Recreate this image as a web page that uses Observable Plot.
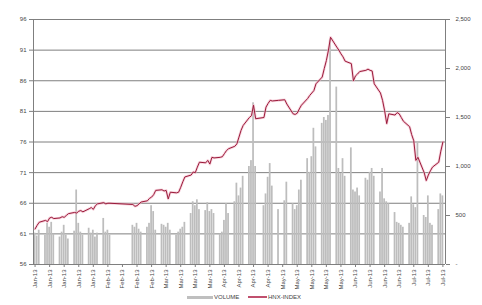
<!DOCTYPE html>
<html>
<head>
<meta charset="utf-8">
<script src="https://cdn.jsdelivr.net/npm/d3@7"></script>
<script src="https://cdn.jsdelivr.net/npm/@observablehq/plot@0.6"></script>
<style>
  html, body { margin: 0; padding: 0; background: #fff; }
  #wrap { position: relative; width: 482px; height: 305px; font-family: "Liberation Sans", Arial, sans-serif; }
  #legend { position: absolute; left: 0; top: 290px; width: 482px; height: 15px; font-size: 6px; color: #444; }
  .sw { position: absolute; height: 3px; top: 6px; }
  .lt { position: absolute; top: 4px; line-height: 7px; }
</style>
</head>
<body>
<div id="wrap">
  <div id="chart"></div>
  <div id="legend">
    <div class="sw" style="left:187px;width:26px;background:#bfbfbf;"></div>
    <div class="lt" style="left:214px;">VOLUME</div>
    <div class="sw" style="left:248px;width:19px;background:#c0506e;height:2px;top:6px;"></div>
    <div class="lt" style="left:268px;">HNX-INDEX</div>
  </div>
</div>
<script>
// Trading calendar (categories)
const startDate = "2013-01-02";
const endDate = "2013-07-17";
const holidays = ["2013-02-08","2013-02-11","2013-02-12","2013-02-13","2013-02-14","2013-02-15","2013-04-19","2013-04-30","2013-05-01"];

// Index values (left axis), one per trading day
const indexValues = [
  61.8,62.4,62.9,63.2,63.0,63.6,63.7,63.5,63.6,63.8,63.7,64.0,64.3,64.5,64.4,64.7,64.8,64.6,65.1,65.3,65.0,65.6,
  65.9,66.1,65.9,66.0,66.0,65.8,65.5,65.6,65.9,66.2,66.4,66.8,67.0,67.4,
  68.1,68.2,68.0,68.1,66.7,67.8,67.7,67.8,68.6,69.5,70.3,70.6,71.1,71.0,71.9,72.7,72.6,73.0,72.4,73.5,73.4,
  73.5,73.6,74.1,74.6,74.9,75.3,75.7,76.8,77.9,78.7,80.0,80.3,82.0,79.8,80.0,81.7,82.3,82.8,82.7,82.8,
  82.9,82.2,80.6,80.5,80.7,81.4,82.0,83.1,83.6,84.0,84.4,85.5,86.6,88.0,89.3,91.0,93.1,91.5,91.0,90.4,89.9,89.2,
  88.8,86.0,86.8,87.1,87.5,87.7,87.9,87.7,87.6,85.5,84.0,82.8,81.1,79.0,80.6,80.4,80.8,80.6,80.0,79.4,
  78.5,77.2,76.2,73.0,73.5,71.0,69.7,70.6,71.3,71.9,72.7,74.5,76.0
];

// Volume values (right axis), one per trading day
const volumeValues = [
  320,290,350,300,420,380,430,310,280,330,400,300,260,340,760,420,330,300,370,320,350,280,
  320,470,330,350,300,400,380,420,360,330,380,420,600,540,
  350,410,400,380,420,350,300,330,360,380,430,520,640,600,660,560,550,630,540,560,520,
  310,330,450,620,520,640,830,700,780,900,1000,1060,1650,1000,600,720,890,1030,800,560,
  650,840,620,560,600,760,860,1080,940,1100,1390,1200,1440,1500,1470,1520,2290,1810,980,930,1080,900,
  1190,760,740,780,700,880,860,940,980,900,740,980,670,640,620,530,430,420,400,380,
  420,690,610,580,1240,500,480,700,420,400,560,720,700
];

const leftTicks = [56,61,66,71,76,81,86,91,96];
const rightTicks = [0,500,1000,1500,2000,2500];
const volMax = 2500;

// Build trading dates
const day = 864e5;
const dates = [];
for (let t = Date.parse(startDate + "T00:00Z"); t <= Date.parse(endDate + "T00:00Z"); t += day) {
  const d = new Date(t);
  const wd = d.getUTCDay();
  const iso = d.toISOString().slice(0, 10);
  if (wd !== 0 && wd !== 6 && !holidays.includes(iso)) dates.push(d);
}

const yMin = leftTicks[0], yMax = leftTicks[leftTicks.length - 1];
const volToY = v => yMin + v / volMax * (yMax - yMin);

const data = dates.map((d, i) => ({date: d, idx: indexValues[i], vol: volumeValues[i]}));

// weekly tick dates from the first trading day
const xTicks = d3.utcDay.every(7) ? d3.range(0, 29).map(k => new Date(Date.parse(startDate + "T00:00Z") + k * 7 * day)) : [];
const x0 = new Date(Date.parse("2013-01-01T06:00Z"));
const x1 = new Date(Date.parse("2013-07-18T06:00Z"));
const fmt = d3.utcFormat("%b-%y");

const chart = Plot.plot({
  width: 482,
  height: 290,
  marginTop: 19,
  marginBottom: 26,
  marginLeft: 33,
  marginRight: 37,
  style: {fontFamily: "Liberation Sans, Arial, sans-serif", fontSize: "6px", color: "#444", background: "#fff"},
  x: {type: "utc", domain: [x0, x1]},
  y: {domain: [yMin, yMax]},
  marks: [
    Plot.ruleY(leftTicks, {stroke: "#7f7f7f", strokeWidth: 1}),
    Plot.rectY(data, {
      x1: d => new Date(+d.date - 0.42 * day),
      x2: d => new Date(+d.date + 0.42 * day),
      y1: yMin,
      y2: d => volToY(d.vol),
      fill: "#bdbdbd"
    }),
    Plot.ruleX([x0], {stroke: "#7f7f7f"}),
    Plot.ruleX([x1], {stroke: "#7f7f7f"}),
    Plot.line(data, {x: "date", y: "idx", stroke: "#f2b6c6", strokeWidth: 2.6, strokeOpacity: 0.6}),
    Plot.line(data, {x: "date", y: "idx", stroke: "#9a1a3a", strokeWidth: 1}),
    Plot.axisY(leftTicks, {anchor: "left", tickSize: 4, tickPadding: 3, stroke: "#7f7f7f", label: null, fill: "#444"}),
    Plot.axisY(rightTicks.map(volToY), {
      anchor: "right", tickSize: 4, tickPadding: 6, stroke: "#7f7f7f", label: null, fill: "#444",
      tickFormat: (v) => { const vol = Math.round((v - yMin) / (yMax - yMin) * volMax); return vol === 0 ? "-" : d3.format(",")(vol); }
    }),
    Plot.axisX(xTicks, {anchor: "bottom", tickSize: 3, tickPadding: 2, tickRotate: -90, stroke: "#7f7f7f", label: null, fill: "#444", tickFormat: fmt})
  ]
});
document.getElementById("chart").appendChild(chart);
</script>
</body>
</html>
